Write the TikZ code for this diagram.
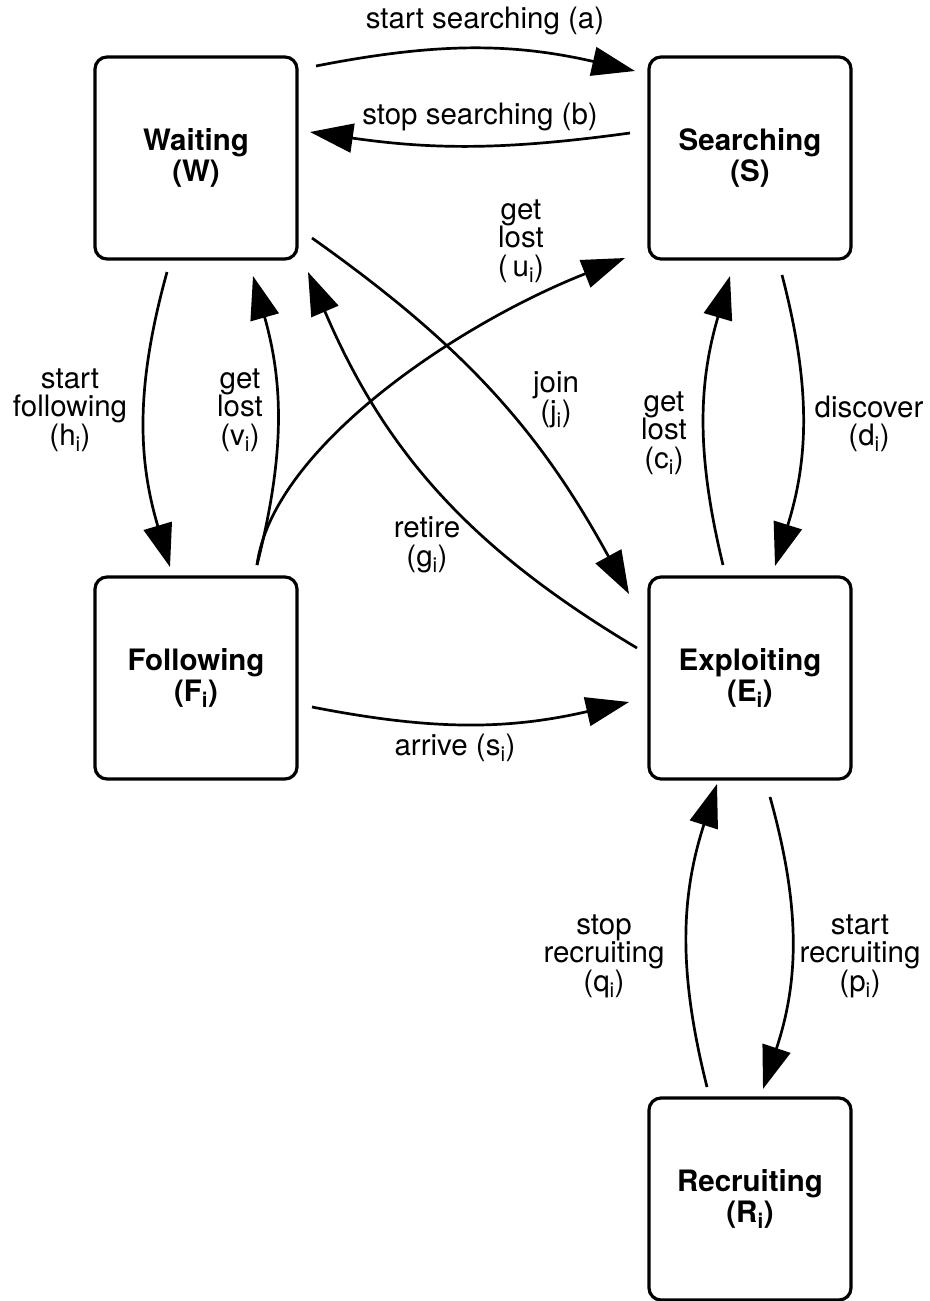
\documentclass[tikz,border=0pt]{standalone}
\usepackage{fontspec}
\setmainfont{TeX Gyre Heros}
\usetikzlibrary{arrows.meta,calc}
\begin{document}
\begin{tikzpicture}[x=1pt,y=1pt,
  state/.style={draw,line width=3.2pt,rounded corners=12pt,minimum width=202pt,minimum height=202pt,
    font=\bfseries\fontsize{29.5}{31}\selectfont,align=center,inner sep=0pt},
  lbl/.style={font=\fontsize{29.5}{28.5}\selectfont,align=center,inner sep=0pt},
  arr/.style={line width=2.7pt,-{Triangle[length=43pt,width=29pt]}}]
\useasboundingbox (0,0) rectangle (929,-1301);
% states
\node[state] (W) at (196,-158) {Waiting\\(W)};
\node[state] (S) at (750,-158) {Searching\\(S)};
\node[state] (F) at (196,-678) {Following\\(F\textsubscript{i})};
\node[state] (E) at (750,-678) {Exploiting\\(E\textsubscript{i})};
\node[state] (R) at (750,-1199) {Recruiting\\(R\textsubscript{i})};
% connectors
\draw[arr] ($(W)+(120,92)$) to[bend left=12] ($(S)+(-115,87)$);
\draw[arr] ($(S)+(-120,25)$) to[bend left=8] ($(W)+(114,26)$);
\draw[arr] ($(W)+(-29,-114)$) to[bend right=16] ($(F)+(-26,111)$);
\draw[arr] ($(F)+(61,113)$) to[bend right=15] ($(W)+(57,-118)$);
\draw[arr] ($(F)+(61,113)$) .. controls (272,-450) and (453,-326) .. ($(S)+(-125,-100)$);
\draw[arr] ($(W)+(116,-80)$) to[bend left=13] ($(E)+(-121,84)$);
\draw[arr] ($(E)+(-113,30)$) to[bend left=18] ($(W)+(112,-114)$);
\draw[arr] ($(E)+(-27,113)$) to[bend left=15] ($(S)+(-20,-118)$);
\draw[arr] ($(S)+(32,-117)$) to[bend left=16] ($(E)+(25,112)$);
\draw[arr] ($(F)+(116,-29)$) to[bend right=12] ($(E)+(-121,-24)$);
\draw[arr] ($(R)+(-43,112)$) to[bend left=16] ($(E)+(-33,-106)$);
\draw[arr] ($(E)+(20,-119)$) to[bend left=17] ($(R)+(13,110)$);
% labels
\node[lbl] (la) at (485,-21) {start searching (a)};
\node[lbl] (lb) at (480,-117) {stop searching (b)};
\node[lbl] (lu) at (521,-241) {get\\lost\\(\,u\textsubscript{i})};
\node[lbl] (lh) at (70,-410) {start\\following\\(h\textsubscript{i})};
\node[lbl] (lv) at (240,-410) {get\\lost\\(v\textsubscript{i})};
\node[lbl] (lj) at (556,-400) {join\\(j\textsubscript{i})};
\node[lbl] (lc) at (664,-433) {get\\lost\\(c\textsubscript{i})};
\node[lbl] (ld) at (869,-424) {discover\\(d\textsubscript{i})};
\node[lbl] (lg) at (427,-545) {retire\\(g\textsubscript{i})};
\node[lbl] (ls) at (455,-748) {arrive (s\textsubscript{i})};
\node[lbl] (lq) at (604,-956) {stop\\recruiting\\(q\textsubscript{i})};
\node[lbl] (lp) at (860,-956) {start\\recruiting\\(p\textsubscript{i})};
\end{tikzpicture}
\end{document}
